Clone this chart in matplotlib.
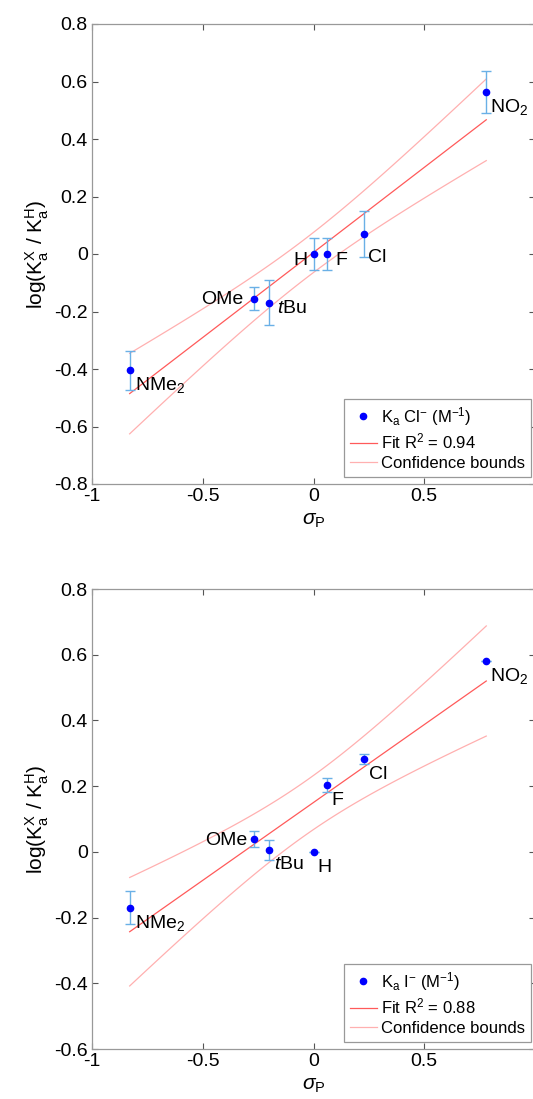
import numpy as np
import matplotlib
matplotlib.use("Agg")
import matplotlib.pyplot as plt

plt.rcParams['font.family'] = ['Liberation Sans', 'DejaVu Sans']
plt.rcParams['mathtext.fontset'] = 'custom'
plt.rcParams['mathtext.rm'] = 'Liberation Sans'
plt.rcParams['mathtext.it'] = 'Liberation Sans:italic'
plt.rcParams['mathtext.sf'] = 'Liberation Sans'

# Hammett substituent constants (sigma_p)
sigma_p = [-0.83, -0.27, -0.20, 0.00, 0.06, 0.23, 0.78]
subst = ['NMe$_2$', 'OMe', '$\\mathit{t}$Bu', 'H', 'F', 'Cl', 'NO$_2$']

# chloride binding
logK_cl = [-0.405, -0.155, -0.17, 0.0, 0.0, 0.07, 0.562]
err_cl = [0.068, 0.04, 0.078, 0.055, 0.055, 0.08, 0.073]
r2_cl = 0.94

# iodide binding
logK_i = [-0.17, 0.039, 0.006, 0.0, 0.203, 0.283, 0.582]
err_i = [0.051, 0.025, 0.03, 0.0, 0.021, 0.015, 0.0]
r2_i = 0.88

T_95 = 2.571  # t(0.975, df=5)

# label offsets in pixels (dx, dy to baseline, ha)
offs_cl = [(5, -20, 'left'), (-10, -5, 'right'), (8, -10, 'left'), (-6, -11, 'right'),
           (9, -11, 'left'), (4, -28, 'left'), (4, -20, 'left')]
offs_i = [(5, -20, 'left'), (-6, -6, 'right'), (5, -19, 'left'), (4, -20, 'left'),
          (5, -20, 'left'), (5, -20, 'left'), (4, -20, 'left')]


def fit_with_bounds(x, y):
    x = np.asarray(x)
    y = np.asarray(y)
    slope, icpt = np.polyfit(x, y, 1)
    xs = np.linspace(x.min(), x.max(), 100)
    yfit = slope * xs + icpt
    resid = y - (slope * x + icpt)
    s = np.sqrt(np.sum(resid ** 2) / (len(x) - 2))
    sxx = np.sum((x - x.mean()) ** 2)
    half = T_95 * s * np.sqrt(1 / len(x) + (xs - x.mean()) ** 2 / sxx)
    return xs, yfit, yfit - half, yfit + half


def draw_panel(ax, y, err, offs, ion, r2, ylim, yticks, leg_top):
    xs, yfit, lo, hi = fit_with_bounds(sigma_p, y)
    l_cb, = ax.plot(xs, lo, color='#ffb0b0', lw=0.9, zorder=1)
    ax.plot(xs, hi, color='#ffb0b0', lw=0.9, zorder=1)
    l_fit, = ax.plot(xs, yfit, color='#ff5a5a', lw=0.9, zorder=2)
    ax.errorbar(sigma_p, y, yerr=err, fmt='none', ecolor='#6ab0e6', elinewidth=1.0,
                capsize=3.5, capthick=1.0, zorder=3)
    l_pts, = ax.plot(sigma_p, y, 'o', color='#0000ff', ms=4.5, ls='none', zorder=4)
    for xv, yv, lab, (dx, dy, ha) in zip(sigma_p, y, subst, offs):
        ax.annotate(lab, (xv, yv), xytext=(dx, dy), textcoords='offset pixels',
                    ha=ha, va='baseline', fontsize=14)
    ax.set_xlim(-1, 1)
    ax.set_ylim(*ylim)
    ax.set_xticks([-1, -0.5, 0, 0.5, 1])
    ax.set_xticklabels(['-1', '-0.5', '0', '0.5', ''])
    ax.set_yticks(yticks)
    ax.set_yticklabels(['%g' % t for t in yticks])
    ax.tick_params(direction='in', length=4, width=0.8, color='#555555', labelsize=14,
                   top=True, right=True, pad=3)
    for sp in ax.spines.values():
        sp.set_color('#999999')
        sp.set_linewidth(0.9)
    ax.set_xlabel('$\\sigma_{\\mathrm{P}}$', fontsize=15, labelpad=4)
    ax.set_ylabel('log(K$_{\\mathrm{a}}^{\\mathrm{X}}$ / K$_{\\mathrm{a}}^{\\mathrm{H}}$)', fontsize=15,
                  labelpad=2)
    labels = ['K$_{\\mathrm{a}}$ %s$^{\\mathrm{-}}$ (M$^{\\mathrm{-1}}$)' % ion,
              'Fit R$^{\\mathrm{2}}$ = %.2f' % r2, 'Confidence bounds']
    leg = ax.legend([l_pts, l_fit, l_cb], labels, loc='upper left',
                    bbox_to_anchor=(344 / 533, 1 - leg_top / 1099), bbox_transform=fig.transFigure,
                    borderaxespad=0, fontsize=12, fancybox=False, framealpha=1,
                    edgecolor='#999999', handlelength=1.6, handletextpad=0.25,
                    borderpad=0.35, labelspacing=0.25)
    leg.get_frame().set_linewidth(0.9)


fig = plt.figure(figsize=(5.33, 10.99), dpi=100)
ax1 = fig.add_axes([92 / 533, 1 - 484 / 1099, 443 / 533, 460 / 1099])
ax2 = fig.add_axes([92 / 533, 1 - 1049 / 1099, 443 / 533, 460 / 1099])

draw_panel(ax1, logK_cl, err_cl, offs_cl, 'Cl', r2_cl, (-0.8, 0.8),
           [-0.8, -0.6, -0.4, -0.2, 0, 0.2, 0.4, 0.6, 0.8], 399)
draw_panel(ax2, logK_i, err_i, offs_i, 'I', r2_i, (-0.6, 0.8),
           [-0.6, -0.4, -0.2, 0, 0.2, 0.4, 0.6, 0.8], 964)

fig.savefig('out.png', dpi=100)
